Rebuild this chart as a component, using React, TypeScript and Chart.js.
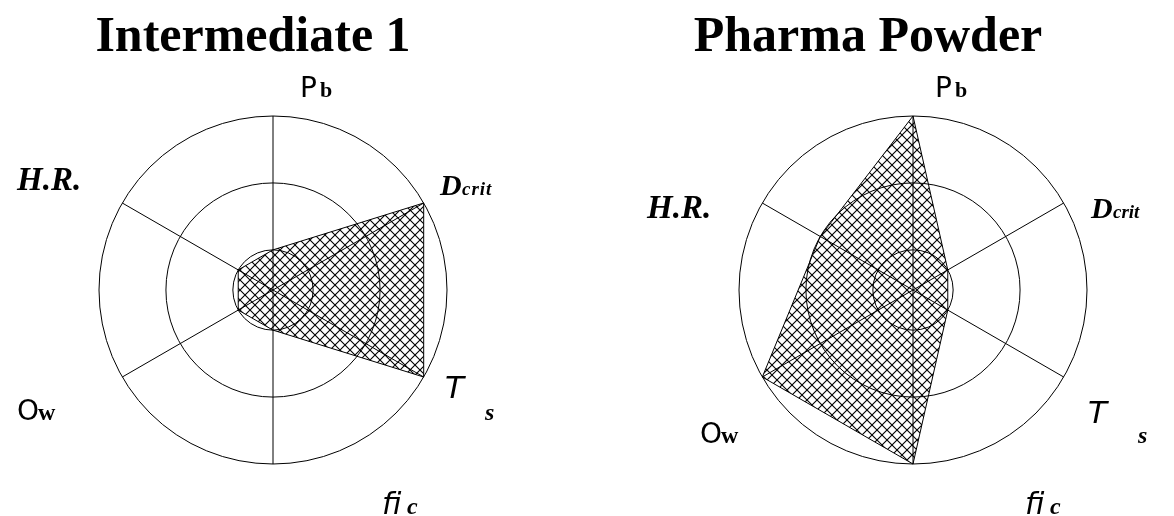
import React, { useEffect, useRef } from "react";
import { Chart, registerables } from "chart.js";

Chart.register(...registerables);

// ---------- data ----------
const categories = ["Pb", "Dcrit", "Ts", "fic", "Ow", "H.R."];
const labelParts = [["P", "b"], ["D", "crit"], ["T", "s"], ["fi", "c"], ["O", "w"], ["H.R."]];
const titles = ["Intermediate 1", "Pharma Powder"];
const intermediateValues = [1, 3, 3, 1, 1, 1];
const pharmaValues = [3, 1, 1, 3, 3, 2];
const ringTicks = [0.4, 1, 2, 3];
const scaleMin = 0.4;
const scaleMax = 3;

// ---------- layout / style ----------
const SANS = "'DejaVu Sans'";
const SERIF = "'Liberation Serif'";

type PartStyle = { font: string; dx: number; dy: number; spacing?: number };

const leftLabelLayout: PartStyle[][] = [
  [{ font: `28px ${SANS}`, dx: 27, dy: -193 }, { font: `bold 22px ${SERIF}`, dx: 47, dy: -193 }],
  [{ font: `bold italic 30px ${SERIF}`, dx: 167, dy: -95 }, { font: `bold italic 19px ${SERIF}`, dx: 189, dy: -95, spacing: 1 }],
  [{ font: `italic 31px ${SANS}`, dx: 172, dy: 108 }, { font: `bold italic 24px ${SERIF}`, dx: 212, dy: 130 }],
  [{ font: `italic 30px ${SANS}`, dx: 109, dy: 224 }, { font: `bold italic 24px ${SERIF}`, dx: 134, dy: 224 }],
  [{ font: `28px ${SANS}`, dx: -256, dy: 130 }, { font: `bold 24px ${SERIF}`, dx: -235, dy: 130 }],
  [{ font: `bold italic 33px ${SERIF}`, dx: -256, dy: -100 }],
];

const rightLabelLayout: PartStyle[][] = [
  [{ font: `28px ${SANS}`, dx: 22, dy: -193 }, { font: `bold 22px ${SERIF}`, dx: 42, dy: -193 }],
  [{ font: `bold italic 30px ${SERIF}`, dx: 178, dy: -72 }, { font: `bold italic 19px ${SERIF}`, dx: 200, dy: -72 }],
  [{ font: `italic 31px ${SANS}`, dx: 175, dy: 133 }, { font: `bold italic 24px ${SERIF}`, dx: 225, dy: 153 }],
  [{ font: `italic 30px ${SANS}`, dx: 112, dy: 224 }, { font: `bold italic 24px ${SERIF}`, dx: 137, dy: 224 }],
  [{ font: `28px ${SANS}`, dx: -213, dy: 153 }, { font: `bold 24px ${SERIF}`, dx: -192, dy: 153 }],
  [{ font: `bold italic 33px ${SERIF}`, dx: -266, dy: -72 }],
];

const PANEL_W = 587;
const PANEL_H = 516;

function makeHatch(): CanvasPattern | string {
  const c = document.createElement("canvas");
  c.width = 10;
  c.height = 10;
  const g = c.getContext("2d");
  if (!g) return "rgba(0,0,0,0.3)";
  g.strokeStyle = "#000";
  g.lineWidth = 1.1;
  g.beginPath();
  g.moveTo(0, 0);
  g.lineTo(10, 10);
  g.moveTo(10, 0);
  g.lineTo(0, 10);
  g.stroke();
  return g.createPattern(c, "repeat") || "rgba(0,0,0,0.3)";
}

type PanelProps = {
  title: string;
  values: number[];
  layout: PartStyle[][];
  padLeft: number;
  titleDx: number;
};

function RadarPanel({ title, values, layout, padLeft, titleDx }: PanelProps) {
  const ref = useRef<HTMLCanvasElement | null>(null);
  useEffect(() => {
    if (!ref.current) return;
    const side = 348;
    const padTop = 116;
    const labelsPlugin = {
      id: "customLabels",
      afterDraw(chart: any) {
        const r = chart.scales.r;
        const cx = r.xCenter;
        const cy = r.yCenter;
        const ctx = chart.ctx as CanvasRenderingContext2D;
        ctx.save();
        ctx.fillStyle = "#000";
        ctx.textBaseline = "alphabetic";
        ctx.textAlign = "left";
        labelParts.forEach((parts, i) => {
          parts.forEach((text, j) => {
            const st = layout[i][j];
            ctx.font = st.font;
            (ctx as any).letterSpacing = st.spacing ? `${st.spacing}px` : "0px";
            ctx.fillText(text, cx + st.dx, cy + st.dy);
          });
        });
        (ctx as any).letterSpacing = "0px";
        ctx.font = `bold 50px ${SERIF}`;
        ctx.textAlign = "center";
        ctx.fillText(title, cx + titleDx, 51);
        ctx.restore();
      },
    };
    const chart = new Chart(ref.current, {
      type: "radar",
      data: {
        labels: categories,
        datasets: [
          {
            label: title,
            data: values,
            backgroundColor: makeHatch() as any,
            borderColor: "#000",
            borderWidth: 1,
            pointRadius: 0,
            pointHoverRadius: 0,
            fill: "start",
          },
        ],
      },
      options: {
        animation: false,
        responsive: false,
        devicePixelRatio: 1,
        layout: {
          padding: {
            left: padLeft,
            right: PANEL_W - padLeft - side,
            top: padTop,
            bottom: PANEL_H - padTop - side,
          },
        },
        plugins: {
          legend: { display: false },
          tooltip: { enabled: false },
          title: { display: false },
        },
        scales: {
          r: {
            min: scaleMin,
            max: scaleMax,
            afterBuildTicks: (s: any) => {
              s.ticks = ringTicks.map((v) => ({ value: v }));
            },
            ticks: { display: false },
            pointLabels: { display: false },
            grid: { circular: true, color: "#000", lineWidth: 1 },
            angleLines: { color: "#000", lineWidth: 1 },
          },
        },
      },
      plugins: [labelsPlugin],
    } as any);
    return () => chart.destroy();
  }, [title, values, layout, padLeft, titleDx]);
  return <canvas ref={ref} width={PANEL_W} height={PANEL_H} style={{ display: "block" }} />;
}

export default function App() {
  return (
    <div
      style={{
        position: "fixed",
        left: 0,
        top: 0,
        width: 1174,
        height: 516,
        background: "#fff",
        display: "flex",
        flexDirection: "row",
      }}
    >
      <RadarPanel title={titles[0]} values={intermediateValues} layout={leftLabelLayout} padLeft={99} titleDx={-20} />
      <RadarPanel title={titles[1]} values={pharmaValues} layout={rightLabelLayout} padLeft={152} titleDx={-45} />
    </div>
  );
}
